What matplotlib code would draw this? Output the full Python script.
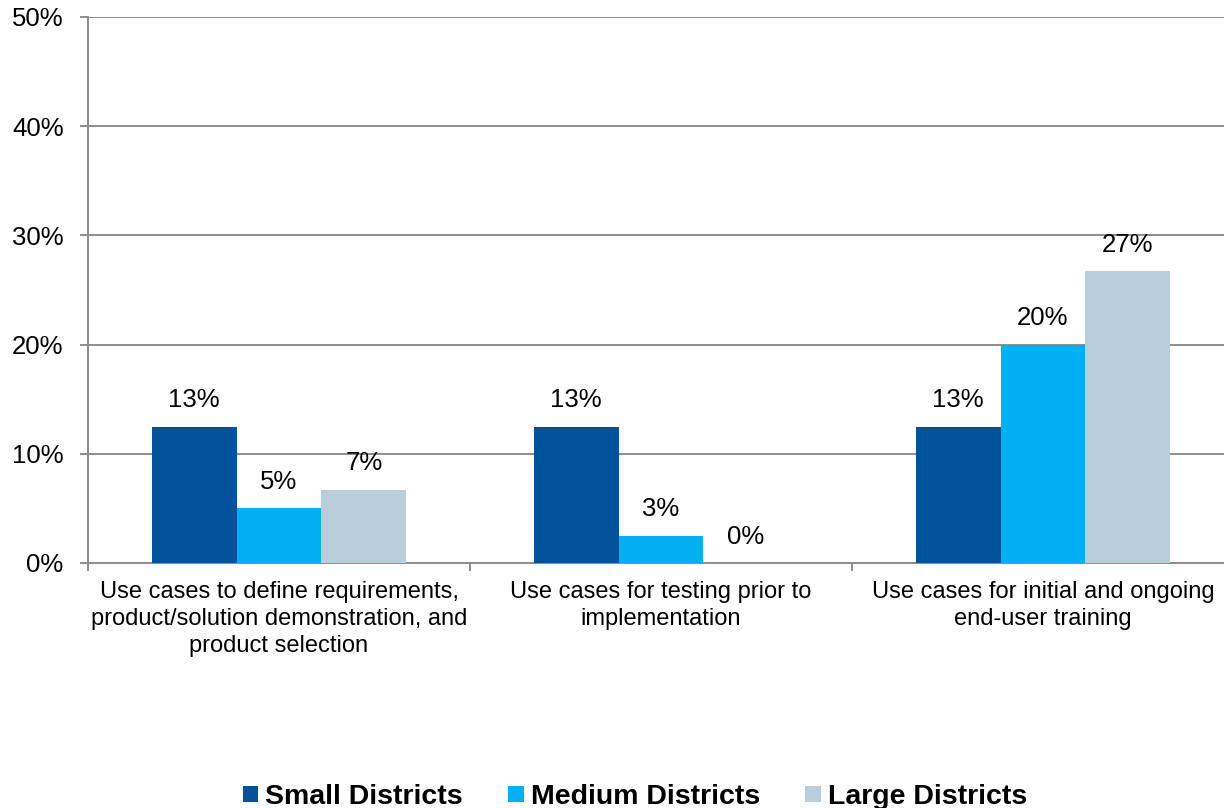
import numpy as np
import matplotlib
matplotlib.use("Agg")
import matplotlib.pyplot as plt

plt.rcParams['font.family'] = ['Liberation Sans', 'DejaVu Sans']

categories = [
    "Use cases to define requirements,\nproduct/solution demonstration, and\nproduct selection",
    "Use cases for testing prior to\nimplementation",
    "Use cases for initial and ongoing\nend-user training",
]
series_names = ["Small Districts", "Medium Districts", "Large Districts"]
small = [12.5, 12.5, 12.5]
medium = [5.0, 2.5, 20.0]
large = [6.7, 0.0, 26.7]
y_ticks = [0, 10, 20, 30, 40, 50]
y_tick_labels = ["0%", "10%", "20%", "30%", "40%", "50%"]

colors = ["#00539B", "#00B0F0", "#B9CEDB"]
grid_color = "#8C8C8C"

W, H = 1224, 808
fig = plt.figure(figsize=(W / 100, H / 100), dpi=100)
# plot area runs past the right edge of the canvas
ax = fig.add_axes([88 / W, (H - 563) / H, 1146 / W, 546 / H])

bar_w = 0.2225
x = np.arange(len(categories)) + 0.5
for i, (vals, name, c) in enumerate(zip([small, medium, large], series_names, colors)):
    pos = x + (i - 1) * bar_w
    ax.bar(pos, vals, width=bar_w, color=c, label=name, zorder=3)
    for px, v in zip(pos, vals):
        label = f"{int(np.floor(v + 0.5))}%"
        ax.annotate(label, (px, v), xytext=(0, 14), textcoords="offset points",
                    ha="center", va="baseline", fontsize=18.5, color="#000000")

ax.set_xlim(0, 3)
ax.set_ylim(0, 50)
ax.set_yticks(y_ticks)
ax.set_yticklabels(y_tick_labels, fontsize=18.5)
ax.yaxis.grid(True, color=grid_color, linewidth=1.4, zorder=0)
ax.tick_params(axis="y", length=5.5, color=grid_color, width=1.4, pad=12)

ax.set_xticks([0, 1, 2, 3])
ax.set_xticklabels([])
ax.tick_params(axis="x", length=6, color=grid_color, width=1.4, direction="out")
ax.set_xticks(x, minor=True)
ax.set_xticklabels(categories, minor=True, fontsize=17, linespacing=1.3)
ax.tick_params(axis="x", which="minor", length=0, pad=13)

for s in ["top", "right"]:
    ax.spines[s].set_visible(False)
ax.spines["left"].set_color(grid_color)
ax.spines["left"].set_linewidth(1.4)
ax.spines["bottom"].set_color(grid_color)
ax.spines["bottom"].set_linewidth(1.4)

leg = fig.legend(loc="center", bbox_to_anchor=(635 / W, 1 - 797 / H), ncol=3,
                 frameon=False, prop={"weight": "bold", "size": 20.5},
                 handlelength=0.53, handleheight=0.53, handletextpad=0.25,
                 columnspacing=1.6, borderpad=0)

fig.savefig("out.png", dpi=100)
